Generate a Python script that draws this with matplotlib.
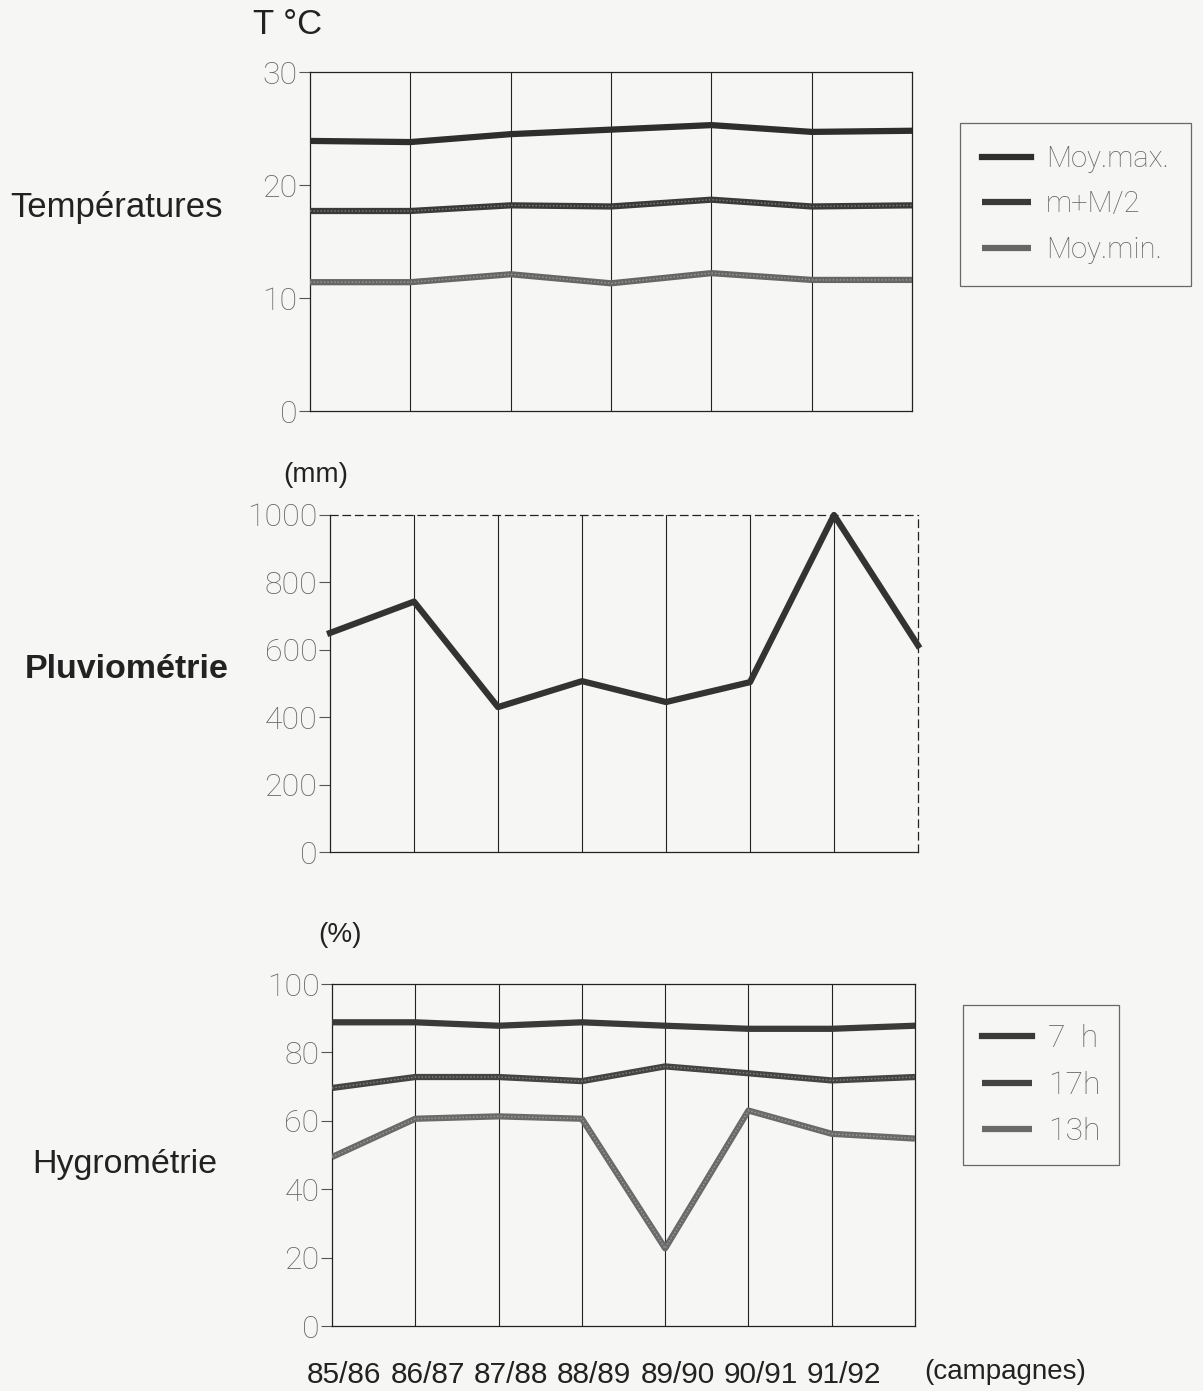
import matplotlib

matplotlib.use("Agg")
import matplotlib.pyplot as plt
import numpy as np

# Températures (7 points, 6 intervalles)
temp_max = [23.9, 23.8, 24.5, 24.9, 25.3, 24.7, 24.8]
temp_moy = [17.7, 17.7, 18.2, 18.1, 18.7, 18.1, 18.2]
temp_min = [11.4, 11.4, 12.1, 11.3, 12.2, 11.6, 11.6]
temp_labels = ["Moy.max.", "m+M/2", "Moy.min."]

# Pluviométrie (8 points)
pluie = [650, 743, 430, 507, 445, 504, 1000, 613]

# Hygrométrie (8 points)
hygro_7h = [88.8, 88.8, 87.8, 88.8, 87.8, 86.9, 86.9, 87.8]
hygro_17h = [69.6, 72.8, 72.8, 71.6, 75.9, 73.9, 71.8, 72.8]
hygro_13h = [49.4, 60.6, 61.3, 60.6, 22.7, 63.0, 56.2, 54.8]
hygro_labels = ["7  h", "17h", "13h"]

campagnes = ["85/86", "86/87", "87/88", "88/89", "89/90", "90/91", "91/92"]

BG = "#f6f6f4"
LIGHT = ["Roboto", "DejaVu Sans"]
W, H = 1203, 1391


def px_axes(fig, left, top, right, bottom):
    return fig.add_axes([left / W, 1 - bottom / H, (right - left) / W, (bottom - top) / H])


def style_axes(ax, n, ymax, yticks):
    ax.set_facecolor("none")
    ax.set_xlim(0, n - 1)
    ax.set_ylim(0, ymax)
    for x in range(1, n - 1):
        ax.axvline(x, color="#222", lw=0.8, zorder=1)
    for s in ax.spines.values():
        s.set_linewidth(0.9)
        s.set_color("#222")
    ax.set_xticks([])
    ax.set_yticks(yticks)
    ax.tick_params(axis="y", direction="out", length=8, width=0.8, color="#555",
                   labelsize=23, labelcolor="#666", pad=1)
    for lab in ax.get_yticklabels():
        lab.set_fontfamily(LIGHT)
        lab.set_fontweight("light")


def textured(ax, x, y, color, label):
    ax.plot(x, y, color=color, lw=4.5, solid_capstyle="butt", zorder=3, label=label)
    ax.plot(x, y, color="white", lw=1, alpha=0.35, ls=(0, (1, 1.5)), zorder=4)


def boxed_legend(ax, x, y, size, **kw):
    leg = ax.legend(loc="upper left", bbox_to_anchor=(x / W, 1 - y / H),
                    bbox_transform=fig.transFigure, frameon=True, fancybox=False,
                    borderaxespad=0, prop=dict(family=LIGHT, weight="light", size=size),
                    labelcolor="#666", **kw)
    leg.get_frame().set_edgecolor("#444")
    leg.get_frame().set_linewidth(0.9)
    leg.get_frame().set_facecolor(BG)
    return leg


fig = plt.figure(figsize=(W / 100, H / 100), dpi=100, facecolor=BG)

# --- Températures
ax1 = px_axes(fig, 310, 72, 912, 411)
x1 = np.arange(len(temp_max))
style_axes(ax1, len(temp_max), 30, [0, 10, 20, 30])
ax1.plot(x1, temp_max, color="#2e2e2e", lw=4.5, zorder=3, label=temp_labels[0])
textured(ax1, x1, temp_moy, "#3a3a3a", temp_labels[1])
textured(ax1, x1, temp_min, "#666666", temp_labels[2])
boxed_legend(ax1, 960, 123, 21, handlelength=1.7, handletextpad=0.5,
             labelspacing=0.6, borderpad=0.75)

# --- Pluviométrie
ax2 = px_axes(fig, 330, 515, 918, 852)
x2 = np.arange(len(pluie))
style_axes(ax2, len(pluie), 1000, [0, 200, 400, 600, 800, 1000])
ax2.spines["top"].set_linestyle((0, (6, 4)))
ax2.spines["right"].set_linestyle((0, (6, 4)))
ax2.plot(x2, pluie, color="#333333", lw=4.5, zorder=3, clip_on=False)

# --- Hygrométrie
ax3 = px_axes(fig, 332, 984, 915, 1326)
x3 = np.arange(len(hygro_7h))
style_axes(ax3, len(hygro_7h), 100, [0, 20, 40, 60, 80, 100])
ax3.plot(x3, hygro_7h, color="#3a3a3a", lw=4.5, zorder=3, label=hygro_labels[0])
textured(ax3, x3, hygro_17h, "#444444", hygro_labels[1])
textured(ax3, x3, hygro_13h, "#6a6a6a", hygro_labels[2])
boxed_legend(ax3, 963, 1005, 23, handlelength=1.55, handletextpad=0.5,
             labelspacing=0.55, borderpad=0.6)

# campagnes sous le dernier graphique
ax3.set_xticks(np.arange(len(campagnes)) + 0.15)
ax3.set_xticklabels(campagnes)
ax3.tick_params(axis="x", length=0, pad=25, labelsize=21.5, labelcolor="#222")
for lab in ax3.get_xticklabels():
    lab.set_fontfamily(["Liberation Sans Narrow", "Liberation Sans", "DejaVu Sans"])
fig.text(1005 / W, 1 - 1372 / H, "(campagnes)", ha="center", va="center",
         fontsize=20, color="#222", family=["Liberation Sans Narrow", "Liberation Sans"])

# titres à gauche et unités
side = dict(color="#222", family=["Liberation Sans", "DejaVu Sans"])
fig.text(10 / W, 1 - 208 / H, "Températures", ha="left", va="center", fontsize=25, **side)
fig.text(25 / W, 1 - 670 / H, "Pluviométrie", ha="left", va="center", weight="bold",
         fontsize=24.5, **side)
fig.text(32 / W, 1 - 1165 / H, "Hygrométrie", ha="left", va="center", fontsize=24.5, **side)
fig.text(253 / W, 1 - 25 / H, "T °C", ha="left", va="center", fontsize=25, **side)
fig.text(283 / W, 1 - 475 / H, "(mm)", ha="left", va="center", fontsize=20, **side)
fig.text(318 / W, 1 - 935 / H, "(%)", ha="left", va="center", fontsize=20, **side)

fig.savefig("out.png", dpi=100, facecolor=BG)
